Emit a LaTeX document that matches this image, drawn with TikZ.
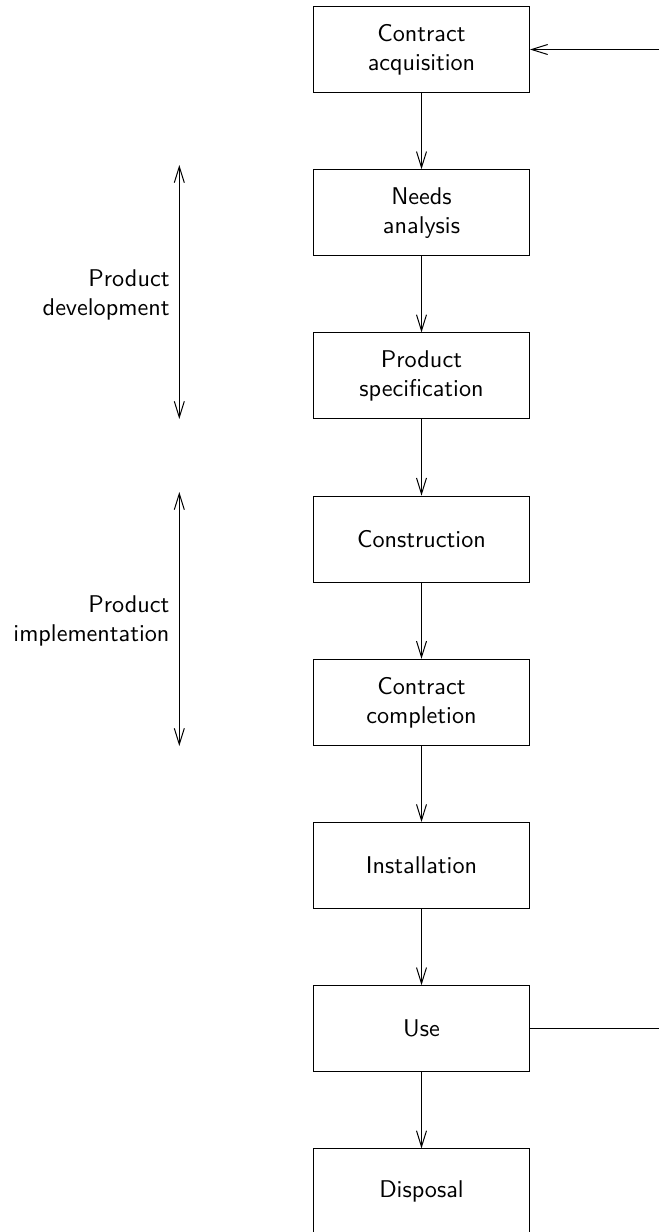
\documentclass[tikz,border=0pt]{standalone}
\usepackage{fontspec}
\setsansfont{lmsans10-regular.otf}
\usetikzlibrary{arrows.meta}
\begin{document}
\begin{tikzpicture}[x=1pt,y=1pt,
  line width=1pt,
  font=\sffamily\fontsize{24.2}{29}\selectfont,
  stage/.style={draw, minimum width=216pt, minimum height=86pt,
    align=center, inner sep=0pt},
  flow/.style={-{Straight Barb[length=16pt,width=10pt,line width=1pt]}},
  span/.style={{Straight Barb[length=16pt,width=10pt,line width=1pt]}-{Straight Barb[length=16pt,width=10pt,line width=1pt]}},
  phase/.style={align=right, anchor=east, inner sep=0pt}]
\useasboundingbox (0,0) rectangle (659,-1232);

% process stages, top to bottom
\node[stage] (acq)  at (421.5,-49.5)  {Contract\\acquisition};
\node[stage] (need) at (421.5,-212.7) {Needs\\analysis};
\node[stage] (spec) at (421.5,-375.9) {Product\\specification};
\node[stage] (cons) at (421.5,-539.1) {Construction};
\node[stage] (comp) at (421.5,-702.3) {Contract\\completion};
\node[stage] (inst) at (421.5,-865.5) {Installation};
\node[stage] (use)  at (421.5,-1028.7) {Use};
\node[stage] (disp) at (421.5,-1191.9) {Disposal};

\draw[flow] (acq) -- (need);
\draw[flow] (need) -- (spec);
\draw[flow] (spec) -- (cons);
\draw[flow] (cons) -- (comp);
\draw[flow] (comp) -- (inst);
\draw[flow] (inst) -- (use);
\draw[flow] (use) -- (disp);

% feedback from use back to acquisition
\coordinate (fbin)  at (659,-49.5);
\coordinate (fbout) at (659,-1028.7);
\draw[flow] (fbin) -- (acq.east);
\draw (use.east) -- (fbout);

% phase spans on the left
\coordinate (devtop) at (179.3,-165);
\coordinate (devbot) at (179.3,-419);
\coordinate (imptop) at (179.3,-492);
\coordinate (impbot) at (179.3,-746);
\draw[span] (devtop) -- (devbot);
\draw[span] (imptop) -- (impbot);

\node[phase] (dev) at (170,-294.5) {Product\\development};
\node[phase] (imp) at (170,-621) {Product\\implementation};
\end{tikzpicture}
\end{document}
